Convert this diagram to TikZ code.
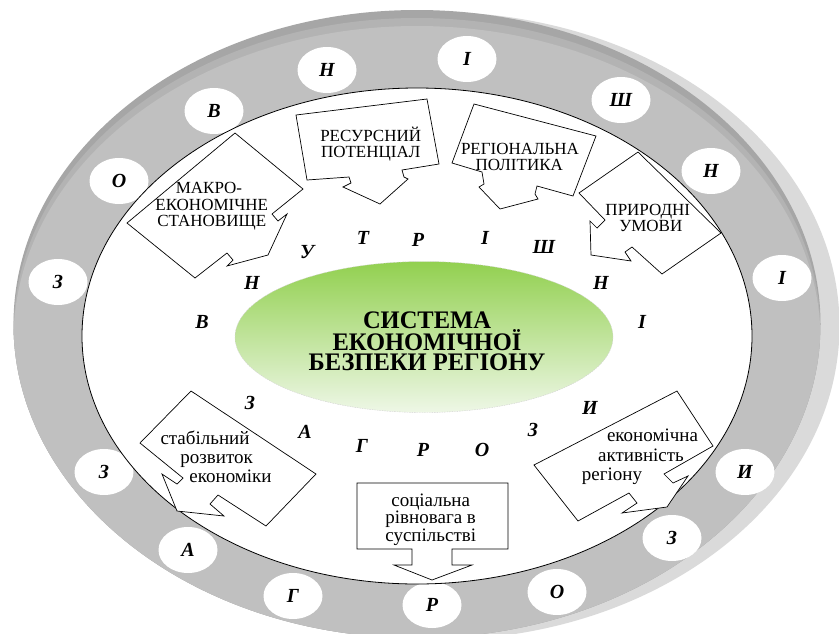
\documentclass[tikz,border=0pt]{standalone}
\usepackage{fontspec}
\setmainfont{Liberation Serif}
\usetikzlibrary{shapes.geometric}
\definecolor{ringgray}{HTML}{C0C0C0}
\definecolor{ringdark}{HTML}{A6A6A6}
\definecolor{ringmid}{HTML}{B3B3B3}
\definecolor{ringshadow}{HTML}{DADADA}
\definecolor{greentop}{HTML}{92D050}
\definecolor{greenbot}{HTML}{EEF7E6}
\tikzset{
  ringdot/.style={ellipse, fill=white, minimum width=59pt, minimum height=46pt, inner sep=0pt,
    font=\fontsize{20}{20}\selectfont\bfseries\itshape},
  ltr/.style={inner sep=0pt, font=\fontsize{20}{20}\selectfont\bfseries\itshape},
  callout/.style={draw=black, fill=white, line width=0.7pt, line join=miter},
  ctext/.style={anchor=base, inner sep=0pt, font=\fontsize{17}{17}\selectfont},
  ltext/.style={anchor=base, inner sep=0pt, font=\fontsize{19}{19}\selectfont},
  titletext/.style={anchor=base, inner sep=0pt, align=center,
    font=\fontsize{24.5}{19.5}\selectfont\bfseries, yscale=1.03}
}
\begin{document}
\begin{tikzpicture}[x=1pt,y=-1pt]
\useasboundingbox (0,0) rectangle (839,633);
\clip (0,0) rectangle (839,633);
\fill[white] (0,0) rectangle (839,633);
% ring with shadow and darker top band
\fill[ringshadow] (436,326) ellipse [x radius=403.5pt, y radius=314pt];
\fill[ringdark] (417,324) ellipse [x radius=403.5pt, y radius=314pt];
\begin{scope}
  \clip (417,324) ellipse [x radius=403.5pt, y radius=314pt];
  \fill[ringmid] (417,332) ellipse [x radius=403.5pt, y radius=314pt];
  \fill[ringgray] (417,340) ellipse [x radius=403.5pt, y radius=314pt];
\end{scope}
% outer ring letters
\node[ringdot] (o1) at (58,282) {З};
\node[ringdot] (o2) at (119,181) {О};
\node[ringdot] (o3) at (214,111) {В};
\node[ringdot] (o4) at (327,70) {Н};
\node[ringdot] (o5) at (467,59) {І};
\node[ringdot] (o6) at (621,100) {Ш};
\node[ringdot] (o7) at (711,171) {Н};
\node[ringdot] (o8) at (782,278) {І};
\node[ringdot] (o9) at (104,472) {З};
\node[ringdot] (o10) at (188,550) {А};
\node[ringdot] (o11) at (293,596) {Г};
\node[ringdot] (o12) at (432,605) {Р};
\node[ringdot] (o13) at (557,592) {О};
\node[ringdot] (o14) at (672,538) {З};
\node[ringdot] (o15) at (745,472) {И};
% inner white ellipse
\draw[fill=white, line width=0.8pt] (417,336) ellipse [x radius=335pt, y radius=248pt];
% central ellipse
\node[ellipse, minimum width=378pt, minimum height=151pt, top color=greentop, bottom color=greenbot,
  draw=gray!35, line width=0.4pt, dash pattern=on 1.5pt off 1pt] (core) at (424,337) {};
\node[titletext] (title) at (427,370.7) {СИСТЕМА\\ЕКОНОМІЧНОЇ\hspace*{22pt}\\БЕЗПЕКИ РЕГІОНУ};
% inner letters
\node[ltr] (i1) at (202,322) {В};
\node[ltr] (i2) at (252,283) {Н};
\node[ltr] (i3) at (307,252) {У};
\node[ltr] (i4) at (363,238) {Т};
\node[ltr] (i5) at (418,240) {Р};
\node[ltr] (i6) at (485,238) {І};
\node[ltr] (i7) at (544,247) {Ш};
\node[ltr] (i8) at (601,283) {Н};
\node[ltr] (i9) at (642,322) {І};
\node[ltr] (j1) at (250,403) {З};
\node[ltr] (j2) at (305,432) {А};
\node[ltr] (j3) at (362,446) {Г};
\node[ltr] (j4) at (423,450) {Р};
\node[ltr] (j5) at (482,450) {О};
\node[ltr] (j6) at (533,430) {З};
\node[ltr] (j7) at (590,408) {И};
% callout 1
\draw[callout] (235,133) -- (303,189) -- (272,214) -- (278,221) -- (287,214) -- (268,255) -- (227,266)
  -- (233,260) -- (227,253) -- (195,278) -- (127,223) -- cycle;
\node[ctext] (c1a) at (209,193.3) {МАКРО-};
\node[ctext] (c1b) at (211.7,210) {ЕКОНОМІЧНЕ};
\node[ctext] (c1c) at (211.7,226.7) {СТАНОВИЩЕ};
% callout 2
\draw[callout] (296,115) -- (427,99) -- (439,164) -- (402,170) -- (404,177) -- (408,179) -- (380,204)
  -- (343,187) -- (351,183) -- (349,177) -- (307,180) -- cycle;
\node[ctext] (c2a) at (370.7,141.7) {РЕСУРСНИЙ};
\node[ctext] (c2b) at (370.7,157.3) {ПОТЕНЦІАЛ};
% callout 3
\draw[callout] (474,104) -- (596,136) -- (573,196) -- (537,186) -- (535,194) -- (538,199) -- (500,209)
  -- (479,187) -- (484,184) -- (482,172) -- (452,163) -- cycle;
\node[ctext] (c3a) at (520,154.3) {РЕГІОНАЛЬНА};
\node[ctext] (c3b) at (519.3,170) {ПОЛІТИКА};
% callout 4
\draw[callout] (638,152) -- (721,233) -- (662,274) -- (632,247) -- (625,252) -- (631,261) -- (591,255)
  -- (590,221) -- (597,228) -- (605,220) -- (579,193) -- cycle;
\node[ctext] (c4a) at (647.8,215) {ПРИРОДНІ};
\node[ctext] (c4b) at (650.8,231.7) {УМОВИ};
% callout 5
\draw[callout] (191,391) -- (316,474) -- (266,526) -- (218,495) -- (210,504) -- (224,516) -- (177,511)
  -- (162,474) -- (177,484) -- (183,478) -- (140,443) -- cycle;
\node[ltext] (c5a) at (205,444) {стабільний};
\node[ltext] (c5b) at (216.7,463) {розвиток};
\node[ltext] (c5c) at (230.5,482) {економіки};
% callout 6
\draw[callout] (357,483) -- (508,483) -- (508,549) -- (452,549) -- (452,565) -- (472,565) -- (432,580)
  -- (394,565) -- (412,565) -- (412,549) -- (357,549) -- cycle;
\node[ltext, align=center, font=\fontsize{19}{16.5}\selectfont] (c6) at (430.7,541) {соціальна\\рівновага в\\суспільстві};
% callout 7
\draw[callout] (677,391) -- (713,446) -- (664,474) -- (673,483) -- (688,476) -- (667,507) -- (622,513)
  -- (637,503) -- (629,493) -- (578,521) -- (534,465) -- cycle;
\node[ltext] (c7a) at (652.5,441) {економічна};
\node[ltext] (c7b) at (641,461) {активність};
\node[ltext] (c7c) at (612,480) {регіону};
\end{tikzpicture}
\end{document}
